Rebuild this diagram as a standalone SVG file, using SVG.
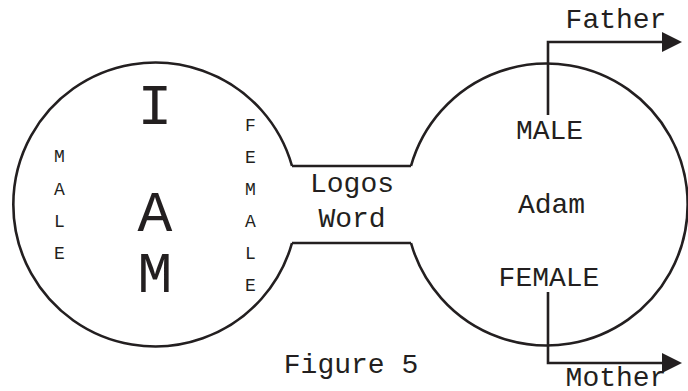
<svg xmlns="http://www.w3.org/2000/svg" width="688" height="391" viewBox="0 0 688 391">
<style>
.ln{fill:none;stroke:#231f20;stroke-width:2.6}
text{font-family:"Liberation Mono","DejaVu Sans Mono",monospace;fill:#231f20;text-anchor:middle}
.big{font-size:58px}
.mid{font-size:28px}
.sm{font-size:18px}
</style>
<defs>
<marker id="ah" viewBox="0 0 20 20" refX="0" refY="10" markerWidth="20" markerHeight="20" markerUnits="userSpaceOnUse" orient="auto">
<path d="M0,0 L20,10 L0,20 z" fill="#231f20"/>
</marker>
</defs>
<rect width="688" height="391" fill="#fff"/>
<g id="iam">
<path class="ln" d="M292,166 A142,142 0 1 0 292,243"/>
<text class="big" x="155" y="124">I</text>
<text class="big" x="155" y="231">A</text>
<text class="big" x="155" y="292">M</text>
<text class="sm" x="59.5" y="162">M</text>
<text class="sm" x="59.5" y="195">A</text>
<text class="sm" x="59.5" y="227">L</text>
<text class="sm" x="59.5" y="259">E</text>
<text class="sm" x="250.5" y="131">F</text>
<text class="sm" x="250.5" y="163">E</text>
<text class="sm" x="250.5" y="195">M</text>
<text class="sm" x="250.5" y="227">A</text>
<text class="sm" x="250.5" y="259">L</text>
<text class="sm" x="250.5" y="291">E</text>
</g>
<g id="logos">
<path class="ln" d="M292,166 H411 M292,243 H411"/>
<text class="mid" x="352" y="192">Logos</text>
<text class="mid" x="352" y="227">Word</text>
</g>
<g id="adam">
<path class="ln" d="M411,166 A141,141 0 1 1 411,243"/>
<text class="mid" x="549.5" y="139">MALE</text>
<text class="mid" x="551.5" y="213">Adam</text>
<text class="mid" x="549" y="286">FEMALE</text>
</g>
<g id="connectors">
<path class="ln" d="M548,115 V42 H662" marker-end="url(#ah)"/>
<path class="ln" d="M548,292 V363 H662" marker-end="url(#ah)"/>
</g>
<g id="father"><text class="mid" x="616" y="28">Father</text></g>
<g id="mother"><text class="mid" x="616" y="386">Mother</text></g>
<g id="caption"><text class="mid" x="351" y="373">Figure 5</text></g>
</svg>
